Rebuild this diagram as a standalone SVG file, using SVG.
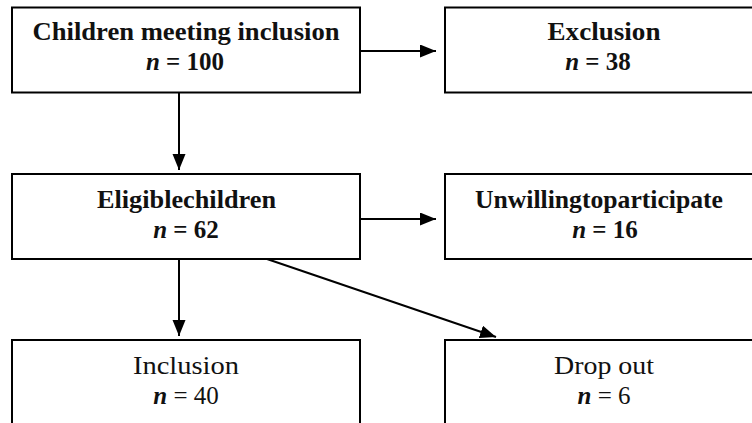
<svg xmlns="http://www.w3.org/2000/svg" width="752" height="423" viewBox="0 0 752 423">
<style>
.box{fill:#fff;stroke:#000;stroke-width:2}
.t{font-family:"Liberation Serif","Times New Roman",serif;font-size:25px;font-weight:bold;text-anchor:middle;fill:#111}
.r{font-weight:normal}
.n{font-style:italic;font-weight:bold}
.c{stroke:#000;stroke-width:2;fill:none;marker-end:url(#ah)}
</style>
<defs>
<marker id="ah" markerUnits="userSpaceOnUse" markerWidth="17" markerHeight="14" refX="16" refY="6.5" orient="auto">
<path d="M0,0 L16,6.5 L0,13 z" fill="#000"/>
</marker>
</defs>
<rect width="752" height="423" fill="#fff"/>
<g id="connectors">
<line class="c" x1="360" y1="51" x2="436" y2="51"/>
<line class="c" x1="179" y1="93" x2="179" y2="170"/>
<line class="c" x1="360" y1="219" x2="436" y2="219"/>
<line class="c" x1="179" y1="259" x2="179" y2="336"/>
<line class="c" x1="267" y1="259" x2="496" y2="337"/>
</g>
<g id="n1">
<rect class="box" x="12" y="7.5" width="348" height="85"/>
<text class="t" x="186" y="40" textLength="307" lengthAdjust="spacingAndGlyphs">Children meeting inclusion</text>
<text class="t" x="185" y="70"><tspan class="n">n</tspan> = 100</text>
</g>
<g id="n2">
<rect class="box" x="445" y="7.5" width="320" height="85"/>
<text class="t" x="604" y="40" textLength="113" lengthAdjust="spacingAndGlyphs">Exclusion</text>
<text class="t" x="598" y="70"><tspan class="n">n</tspan> = 38</text>
</g>
<g id="n3">
<rect class="box" x="12" y="174" width="348" height="85"/>
<text class="t" x="186.5" y="208" textLength="179" lengthAdjust="spacingAndGlyphs">Eligiblechildren</text>
<text class="t" x="186" y="238"><tspan class="n">n</tspan> = 62</text>
</g>
<g id="n4">
<rect class="box" x="445" y="174" width="320" height="85"/>
<text class="t" x="599" y="208" textLength="248" lengthAdjust="spacingAndGlyphs">Unwillingtoparticipate</text>
<text class="t" x="605" y="238"><tspan class="n">n</tspan> = 16</text>
</g>
<g id="n5">
<rect class="box" x="12" y="340" width="348" height="100"/>
<text class="t r" x="186" y="374" textLength="106" lengthAdjust="spacingAndGlyphs">Inclusion</text>
<text class="t r" x="186" y="404"><tspan class="n">n</tspan> = 40</text>
</g>
<g id="n6">
<rect class="box" x="445" y="340" width="320" height="100"/>
<text class="t r" x="604" y="374" textLength="100" lengthAdjust="spacingAndGlyphs">Drop out</text>
<text class="t r" x="604" y="404"><tspan class="n">n</tspan> = 6</text>
</g>
</svg>
